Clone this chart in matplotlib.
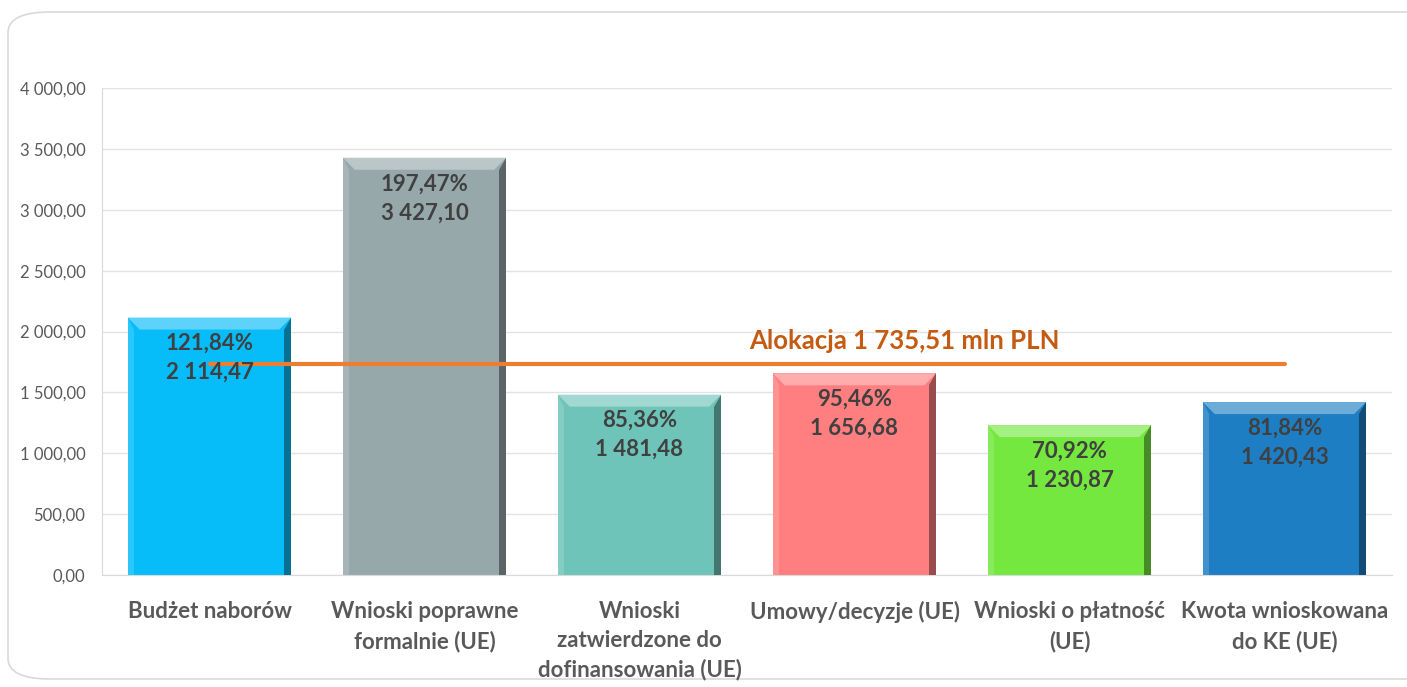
import matplotlib
matplotlib.use("Agg")
import matplotlib.pyplot as plt
from matplotlib.patches import Polygon, FancyBboxPatch
from matplotlib.ticker import FuncFormatter, MultipleLocator
import matplotlib.colors as mcolors

categories = ["Budżet naborów", "Wnioski poprawne\nformalnie (UE)", "Wnioski\nzatwierdzone do\ndofinansowania (UE)",
              "Umowy/decyzje (UE)", "Wnioski o płatność\n(UE)", "Kwota wnioskowana\ndo KE (UE)"]
values = [2114.47, 3427.10, 1481.48, 1656.68, 1230.87, 1420.43]
percents = ["121,84%", "197,47%", "85,36%", "95,46%", "70,92%", "81,84%"]
value_labels = ["2 114,47", "3 427,10", "1 481,48", "1 656,68", "1 230,87", "1 420,43"]
colors = ["#06BCF9", "#97A8AB", "#6EC4B9", "#FF7F80", "#74E83F", "#1E7EC3"]
allocation = 1735.51
allocation_label = "Alokacja 1 735,51 mln PLN"

plt.rcParams['font.family'] = ['Lato', 'DejaVu Sans']

fig = plt.figure(figsize=(14.07, 6.87), dpi=100)
border = FancyBboxPatch((8/1407, 8/687), 1.2, 1 - 20/687, boxstyle="round,pad=0,rounding_size=0.03",
                        transform=fig.transFigure, facecolor="white", edgecolor="#D9D9D9", linewidth=1.2,
                        zorder=-10)
fig.patches.append(border)

ax = fig.add_axes([102/1407, 1 - 575/687, 1290/1407, 487/687])
ax.set_facecolor("none")
x = list(range(len(values)))
width = 0.76
bars = ax.bar(x, values, width=width, color=colors, zorder=2)
ax.set_xlim(-0.5, len(values) - 0.5)
ax.set_ylim(0, 4000)
ax.yaxis.set_major_locator(MultipleLocator(500))
ax.yaxis.set_major_formatter(FuncFormatter(lambda v, p: f"{v:,.2f}".replace(",", " ").replace(".", ",")))
ax.grid(axis="y", color="#E3E3E3", linewidth=1, zorder=0)
for s in ["top", "right"]:
    ax.spines[s].set_visible(False)
for s in ["left", "bottom"]:
    ax.spines[s].set_color("#D9D9D9")
ax.tick_params(axis="both", length=0)
ax.tick_params(axis="y", labelsize=12, labelcolor="#595959", pad=12)
ax.set_xticks(x)
ax.set_xticklabels(categories, fontsize=16, fontweight="bold", color="#595959", linespacing=1.45)
ax.tick_params(axis="x", pad=19)

# bevel effect
bx = 12 / 215.0
by = 12 / (487 / 4000.0)
def shade(c, f):
    r, g, b = mcolors.to_rgb(c)
    if f > 0:
        return (r + (1 - r) * f, g + (1 - g) * f, b + (1 - b) * f)
    return (r * (1 + f), g * (1 + f), b * (1 + f))
for b, c in zip(bars, colors):
    x0 = b.get_x(); x1 = x0 + b.get_width(); h = b.get_height()
    top = Polygon([(x0, h), (x1, h), (x1 - bx, h - by), (x0 + bx, h - by)], closed=True,
                  facecolor=shade(c, 0.35), edgecolor="none", zorder=3)
    right = Polygon([(x1, h), (x1, 0), (x1 - bx * 0.6, 0), (x1 - bx * 0.6, h - by)], closed=True,
                    facecolor=shade(c, -0.4), edgecolor="none", zorder=3)
    left = Polygon([(x0, h), (x0, 0), (x0 + bx * 0.5, 0), (x0 + bx * 0.5, h - by)], closed=True,
                   facecolor=shade(c, 0.15), edgecolor="none", zorder=3)
    ax.add_patch(top); ax.add_patch(right); ax.add_patch(left)

ax.plot([x[0], x[-1]], [allocation, allocation], color="#ED7D31", linewidth=3, zorder=5, solid_capstyle="round")
ax.text((x[0] + x[-1]) / 2 + 0.73, allocation + 85, allocation_label, ha="center", va="bottom",
        fontsize=18.5, fontweight="bold", color="#C55A11", zorder=6)

for xi, v, p, vl in zip(x, values, percents, value_labels):
    ax.annotate(p, (xi, v), xytext=(0, -26), textcoords="offset pixels", ha="center", va="center",
                fontsize=16, fontweight="bold", color="#404040", zorder=6)
    ax.annotate(vl, (xi, v), xytext=(0, -55), textcoords="offset pixels", ha="center", va="center",
                fontsize=16, fontweight="bold", color="#404040", zorder=6)

fig.savefig("out.png", dpi=100)
